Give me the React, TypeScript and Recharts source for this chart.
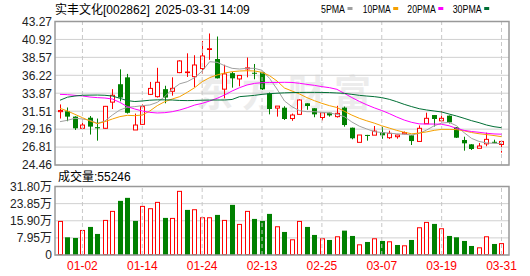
import { ComposedChart, Bar, Line, XAxis, YAxis, CartesianGrid, ReferenceLine } from "recharts";

const DATES = [
  "12-27", "12-30", "12-31", "01-02", "01-03", "01-06", "01-07", "01-08", "01-09", "01-10",
  "01-13", "01-14", "01-15", "01-16", "01-17", "01-20", "01-21", "01-22", "01-23", "01-24",
  "01-27", "02-05", "02-06", "02-07", "02-10", "02-11", "02-12", "02-13", "02-14", "02-17",
  "02-18", "02-19", "02-20", "02-21", "02-24", "02-25", "02-26", "02-27", "02-28", "03-03",
  "03-04", "03-05", "03-06", "03-07", "03-10", "03-11", "03-12", "03-13", "03-14", "03-17",
  "03-18", "03-19", "03-20", "03-21", "03-24", "03-25", "03-26", "03-27", "03-28", "03-31",
];

const OPEN = [
  31.45, 31.5, 30.8, 29.27, 30.66, 29.42, 29.27, 32.7, 35.05, 35.95,
  29.05, 29.79, 33.72, 33.42, 34.4, 34.12, 36.57, 36.6, 36.04, 37.1,
  39.6, 38.35, 34.4, 36.5, 35.74, 37.06, 36.55, 36.63, 33.86, 31.92,
  31.97, 30.55, 31.1, 32.55, 31.9, 30.69, 31.32, 30.8, 31.98, 29.35,
  27.43, 28.4, 28.37, 28.74, 28.04, 28.17, 28.55, 28.35, 27.55, 29.87,
  31.01, 30.25, 30.93, 29.4, 27.74, 27.17, 26.65, 27.23, 27.5, 27.15,
];
const HIGH = [
  32.4, 32.0, 30.85, 30.5, 30.88, 30.55, 32.2, 34.4, 37.0, 36.4,
  31.2, 32.4, 35.35, 37.2, 34.85, 35.95, 38.2, 39.1, 38.85, 40.72,
  41.7, 41.3, 37.6, 36.65, 36.2, 38.55, 37.7, 36.7, 33.96, 32.18,
  32.16, 31.2, 33.07, 32.55, 31.9, 31.3, 31.32, 32.22, 32.12, 29.36,
  28.4, 28.41, 29.57, 29.45, 28.96, 28.42, 28.85, 28.4, 29.65, 31.32,
  31.01, 31.5, 30.95, 29.42, 28.17, 27.2, 27.35, 28.7, 27.78, 27.6,
];
const LOW = [
  30.55, 30.2, 29.05, 29.25, 28.45, 27.65, 29.18, 31.8, 32.8, 31.2,
  29.05, 29.7, 33.63, 33.3, 32.55, 33.55, 36.5, 36.0, 34.65, 36.42,
  38.25, 35.8, 33.2, 34.6, 34.78, 35.95, 35.7, 34.3, 31.1, 30.8,
  30.36, 30.25, 31.1, 31.7, 30.72, 30.3, 30.8, 30.67, 29.48, 27.83,
  27.43, 27.65, 28.37, 27.9, 27.87, 27.91, 28.48, 27.08, 27.5, 29.85,
  29.5, 30.08, 29.9, 28.0, 26.34, 26.43, 26.65, 26.92, 27.32, 26.08,
];
const CLOSE = [
  31.6, 30.8, 29.27, 29.7, 29.49, 29.27, 32.15, 33.6, 33.3, 31.3,
  29.7, 32.11, 34.5, 35.3, 33.3, 34.51, 38.1, 36.65, 37.57, 38.75,
  39.7, 35.82, 36.4, 35.82, 36.2, 37.19, 36.44, 34.38, 31.8, 32.18,
  30.49, 31.01, 32.98, 32.19, 31.1, 31.3, 30.96, 31.23, 29.7, 27.96,
  28.39, 28.35, 28.9, 28.35, 28.61, 28.39, 28.72, 27.6, 29.27, 30.58,
  30.49, 30.58, 30.05, 28.04, 27.3, 26.56, 26.95, 27.82, 27.45, 27.55,
];
// close of the session before the first candle (volume colour of day 1)
const PREV_CLOSE = 31.3;

const MA5 = [
  30.14, 30.32, 30.58, 30.49, 30.32, 29.92, 30.23, 31.01, 31.67, 32.02,
  32.11, 32.24, 32.33, 32.67, 33.42, 34.4, 35.1, 35.38, 35.91, 36.78,
  38.0, 37.92, 37.48, 37.13, 37.04, 37.13, 37.13, 36.87, 35.82, 34.42,
  32.85, 32.1, 31.58, 31.45, 31.45, 31.36, 31.28, 31.1, 30.8, 30.1,
  29.55, 29.18, 28.83, 28.72, 28.63, 28.55, 28.5, 28.39, 28.61, 29.05,
  29.6, 29.95, 30.05, 29.6, 28.7, 27.95, 27.55, 27.35, 27.3, 27.28,
];
const MA10 = [
  31.89, 31.54, 31.1, 30.66, 30.23, 29.88, 30.14, 30.49, 30.8, 30.97,
  30.93, 31.01, 31.54, 32.24, 32.76, 33.11, 33.42, 33.98, 34.6, 35.38,
  35.91, 36.26, 36.52, 36.69, 36.78, 36.82, 36.78, 36.61, 36.17, 35.47,
  34.55, 34.16, 33.77, 33.29, 32.89, 32.54, 32.24, 32.0, 31.5, 31.0,
  30.58, 30.25, 29.95, 29.6, 29.3, 29.0, 28.75, 28.55, 28.65, 28.8,
  29.0, 29.13, 29.13, 29.1, 28.94, 28.72, 28.56, 28.45, 28.32, 28.17,
];
const MA20 = [
  33.72, 33.68, 33.59, 33.51, 33.37, 33.29, 33.24, 33.11, 32.67, 32.11,
  31.8, 31.54, 31.36, 31.28, 31.32, 31.45, 31.67, 31.97, 32.32, 32.54,
  32.85, 33.2, 33.64, 34.16, 34.6, 34.95, 35.16, 35.25, 35.27, 35.28,
  35.3, 35.28, 35.17, 35.03, 34.9, 34.73, 34.6, 34.38, 33.85, 33.3,
  32.8, 32.35, 31.95, 31.6, 31.2, 30.75, 30.35, 30.05, 29.85, 29.83,
  29.83, 29.8, 29.6, 29.25, 29.0, 28.85, 28.75, 28.62, 28.53, 28.5,
];
const MA30 = [
  32.95, 33.35, 33.5, 33.6, 33.62, 33.63, 33.6, 33.5, 33.2, 32.9,
  32.78, 32.85, 32.95, 33.0, 33.0, 32.98, 32.92, 32.9, 32.92, 32.95,
  32.97, 32.98, 32.98, 33.05, 33.42, 33.5, 33.59, 33.72, 33.81, 33.87,
  33.92, 33.95, 33.97, 33.98, 33.98, 33.97, 33.95, 33.9, 33.85, 33.72,
  33.59, 33.5, 33.42, 33.29, 33.07, 32.76, 32.41, 32.11, 31.84, 31.67,
  31.54, 31.41, 31.14, 30.88, 30.58, 30.27, 30.01, 29.7, 29.48, 29.35,
];

// volume, in 万
const VOLUME = [
  15.82, 8.22, 7.91, 11.63, 13.03, 9.77, 16.29, 20.48, 25.13, 26.53,
  15.82, 22.8, 21.72, 24.66, 17.22, 17.22, 29.78, 20.94, 21.25, 17.53,
  17.53, 18.61, 16.29, 23.27, 14.43, 20.48, 16.75, 15.82, 19.08, 13.34,
  10.7, 7.29, 15.82, 13.03, 9.31, 7.76, 6.98, 8.69, 11.32, 8.84,
  4.96, 6.05, 7.76, 6.52, 6.36, 4.65, 4.5, 6.98, 12.88, 15.36,
  14.43, 12.41, 8.84, 8.22, 6.52, 4.19, 3.57, 8.69, 5.12, 5.52,
];
const LAST_VOLUME = 55246;

const PRICE_TICKS = [24.46, 26.81, 29.16, 31.51, 33.87, 36.22, 38.57, 40.92, 43.27];
const VOL_TICKS = [0, 7.95, 15.9, 23.85, 31.8];
const DATE_TICKS = ["01-02", "01-14", "01-24", "02-13", "02-25", "03-07", "03-19", "03-31"];

const TITLE_NAME = "实丰文化[002862]";
const TITLE_TIME = "2025-03-31 14:09";

const RED = "#ff0000";
const GREEN = "#008000";
const FONT = '"Liberation Sans", Arial, "Noto Sans CJK SC", sans-serif';

const MAS = [
  { key: "ma5", label: "5PMA", color: "#a0a0a0" },
  { key: "ma10", label: "10PMA", color: "#f5a000" },
  { key: "ma20", label: "20PMA", color: "#ff00ff" },
  { key: "ma30", label: "30PMA", color: "#006f35" },
];

const rows = DATES.map((date, i) => ({
  date,
  open: OPEN[i],
  high: HIGH[i],
  low: LOW[i],
  close: CLOSE[i],
  range: [LOW[i], HIGH[i]],
  ma5: MA5[i],
  ma10: MA10[i],
  ma20: MA20[i],
  ma30: MA30[i],
  vol: VOLUME[i],
  volUp: CLOSE[i] >= (i === 0 ? PREV_CLOSE : CLOSE[i - 1]),
}));

const X_PAD = { left: 1.25, right: 3.75 };

function Candle(props: any) {
  const { x, y, width, height, payload } = props;
  if (!payload) return null;
  const { open, close, high, low } = payload;
  const top0 = Math.min(y, y + height);
  const h = Math.abs(height);
  const py = (v: number) => top0 + ((high - v) / (high - low)) * h;
  const cx = Math.round(x + width / 2) + 0.5;
  const up = close >= open;
  const bt = py(Math.max(open, close));
  const bb = py(Math.min(open, close));
  if (up) {
    return (
      <g>
        <line x1={cx} x2={cx} y1={top0} y2={bt} stroke={RED} />
        <line x1={cx} x2={cx} y1={bb} y2={top0 + h} stroke={RED} />
        <rect x={cx - 2} y={bt} width={4} height={Math.max(bb - bt, 0.6)} fill="#fff" stroke={RED} />
      </g>
    );
  }
  return (
    <g>
      <line x1={cx} x2={cx} y1={top0} y2={top0 + h} stroke={GREEN} />
      <rect x={cx - 2.5} y={bt} width={5} height={Math.max(bb - bt, 1)} fill={GREEN} />
    </g>
  );
}

function VolBar(props: any) {
  const { x, y, width, height, payload } = props;
  if (!payload) return null;
  const cx = Math.round(x + width / 2) + 0.5;
  if (payload.volUp) {
    return <rect x={cx - 2} y={y + 0.5} width={4} height={Math.max(height - 1, 0)} fill="#fff" stroke={RED} />;
  }
  return <rect x={cx - 2.5} y={y} width={5} height={height} fill={GREEN} />;
}

function PriceTick(props: any) {
  return (
    <text x={52} y={props.y} dy="0.36em" textAnchor="end" fontSize={12} fill="#222" fontFamily={FONT}>
      {Number(props.payload.value).toFixed(2)}
    </text>
  );
}

function VolTick(props: any) {
  const v = Number(props.payload.value);
  return (
    <text x={52} y={props.y} dy="0.36em" textAnchor="end" fontSize={12} fill="#222" fontFamily={FONT}>
      {v === 0 ? "0" : `${v.toFixed(2)}万`}
    </text>
  );
}

function DateTick(props: any) {
  return (
    <text x={props.x} y={100} textAnchor="middle" fontSize={12} fill={RED} fontFamily={FONT}>
      {props.payload.value}
    </text>
  );
}

const abs = { position: "absolute" as const, left: 0 };

export default function App() {
  return (
    <div style={{ position: "absolute", left: 0, top: 0, width: 530, height: 276, background: "#fff", fontFamily: FONT }}>
      {/* watermark, under the chart */}
      <svg width={530} height={276} style={{ ...abs, top: 0 }}>
        <text x={196} y={107} fontSize={37} fontWeight="bold" fill="#ececec" letterSpacing={9} fontFamily='"Noto Sans CJK SC", sans-serif'>
          东方财富
        </text>
      </svg>

      <ComposedChart
        width={530}
        height={176}
        data={rows}
        margin={{ top: 21.5, right: 21, bottom: 11, left: 0 }}
        style={{ ...abs, top: 0 }}
      >
        <CartesianGrid vertical={false} stroke="#d0d0d0" />
        <XAxis dataKey="date" hide padding={X_PAD} />
        <YAxis
          type="number"
          domain={[24.46, 43.27]}
          ticks={PRICE_TICKS}
          interval={0}
          allowDataOverflow
          width={55}
          axisLine={false}
          tickLine={false}
          tick={(p: any) => <PriceTick {...p} />}
        />
        {DATE_TICKS.map((d) => (
          <ReferenceLine key={d} x={d} stroke="#c8c8c8" strokeDasharray="4 3" />
        ))}
        <Bar dataKey="range" barSize={5} shape={(p: any) => <Candle {...p} />} isAnimationActive={false} />
        {MAS.map((m) => (
          <Line
            key={m.key}
            type="linear"
            dataKey={m.key}
            stroke={m.color}
            strokeWidth={1}
            dot={false}
            activeDot={false}
            isAnimationActive={false}
          />
        ))}
      </ComposedChart>

      <ComposedChart
        width={530}
        height={106}
        data={rows}
        margin={{ top: 16.5, right: 21, bottom: 0, left: 0 }}
        style={{ ...abs, top: 170 }}
      >
        <CartesianGrid vertical={false} stroke="#d0d0d0" />
        <XAxis
          dataKey="date"
          ticks={DATE_TICKS}
          interval={0}
          height={21}
          padding={X_PAD}
          axisLine={false}
          tickLine={false}
          tick={(p: any) => <DateTick {...p} />}
        />
        <YAxis
          type="number"
          domain={[0, 31.8]}
          ticks={VOL_TICKS}
          interval={0}
          allowDataOverflow
          width={55}
          axisLine={false}
          tickLine={false}
          tick={(p: any) => <VolTick {...p} />}
        />
        {DATE_TICKS.map((d) => (
          <ReferenceLine key={d} x={d} stroke="#c8c8c8" strokeDasharray="4 3" />
        ))}
        <Bar dataKey="vol" barSize={5} shape={(p: any) => <VolBar {...p} />} isAnimationActive={false} />
      </ComposedChart>

      {/* frames, title, legend */}
      <svg width={530} height={276} style={{ ...abs, top: 0, pointerEvents: "none" }}>
        <rect x={55} y={21.5} width={454} height={143.5} fill="none" stroke="#999" strokeWidth={1.5} />
        <rect x={55} y={186.5} width={454} height={68.5} fill="none" stroke="#999" strokeWidth={1.5} />
        <text x={55} y={14} fontSize={12} fill="#000" fontFamily={FONT}>{TITLE_NAME}</text>
        <text x={155} y={14} fontSize={12} fill="#000" fontFamily={FONT}>{TITLE_TIME}</text>
        {MAS.map((m, i) => {
          const lx = [321, 362.7, 407.3, 452.7][i];
          const tw = [24, 28, 28.5, 29][i];
          return (
            <g key={m.key}>
              <text x={lx} y={12.7} fontSize={11} fill="#000" fontFamily={FONT} textLength={tw} lengthAdjust="spacingAndGlyphs">
                {m.label}
              </text>
              <rect x={lx + tw + 2.5} y={7} width={5} height={3} fill={m.color} />
            </g>
          );
        })}
        <text x={58} y={181} fontSize={12} fill="#000" fontFamily={FONT}>
          {`成交量:${LAST_VOLUME}`}
        </text>
      </svg>
    </div>
  );
}
